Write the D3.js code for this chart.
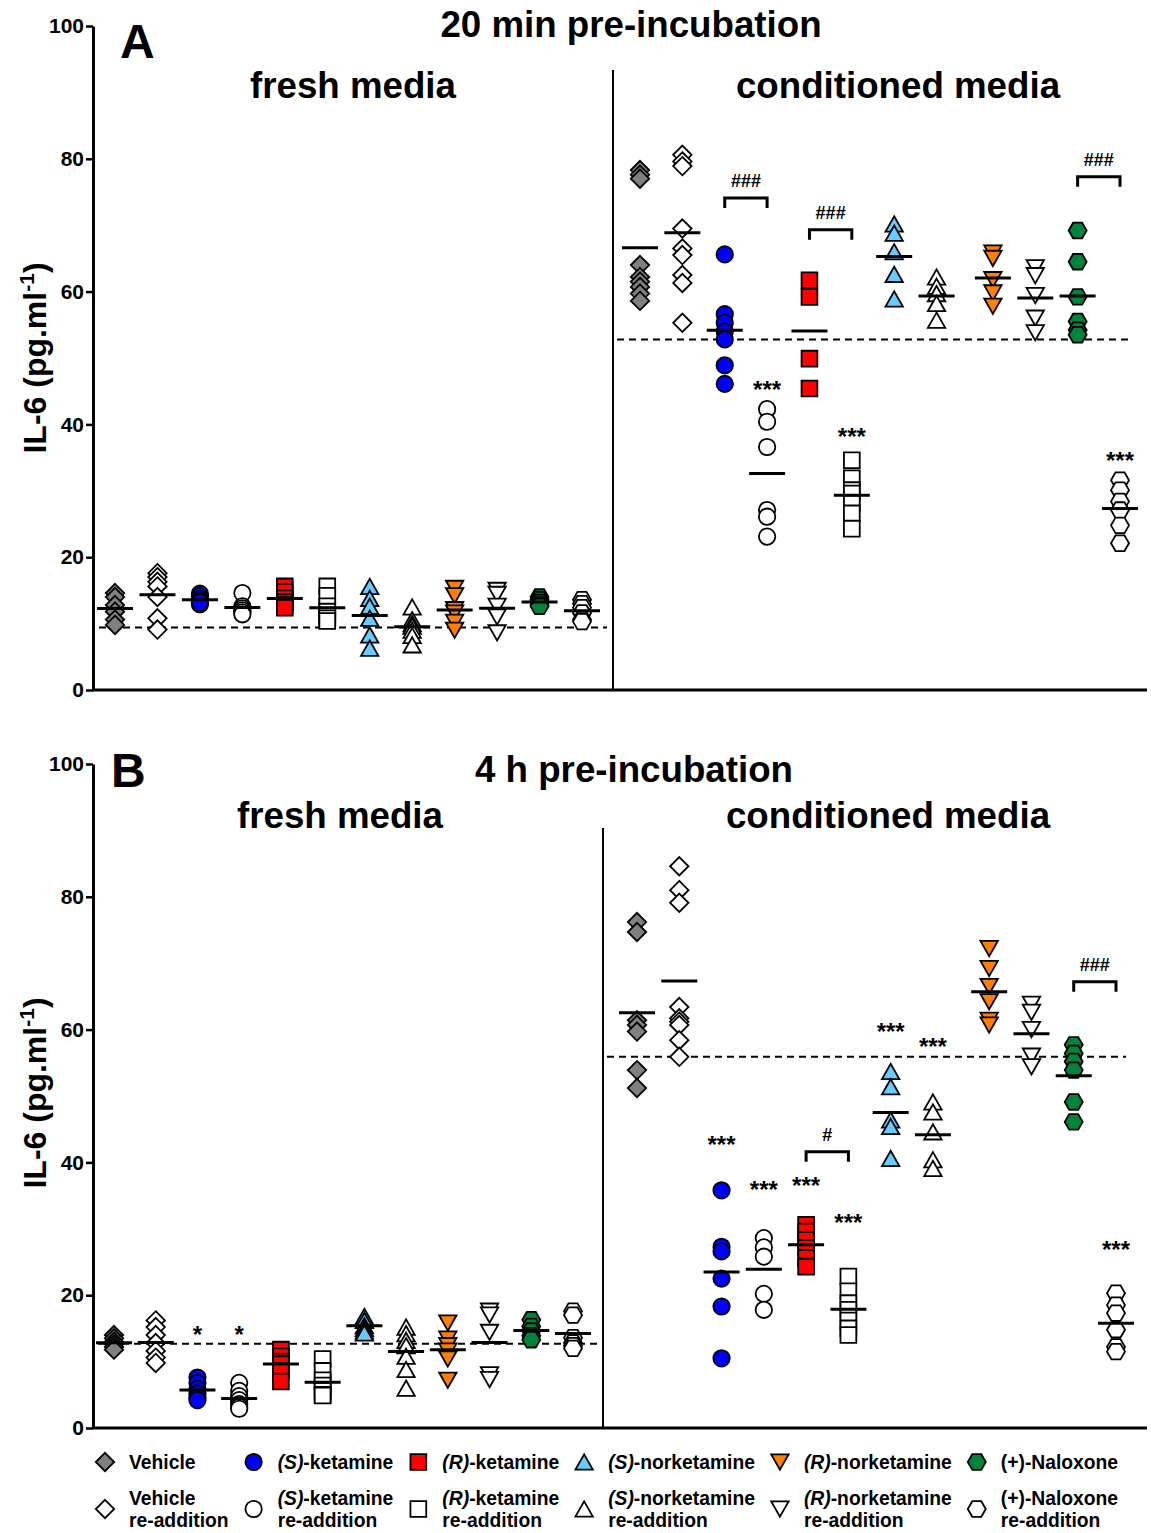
<!DOCTYPE html>
<html>
<head>
<meta charset="utf-8">
<script src="https://cdn.jsdelivr.net/npm/d3@7"></script>
<style>
  body { margin: 0; background: #fff; }
  text { font-family: "Liberation Sans", Arial, sans-serif; font-weight: bold; fill: #000; }
</style>
</head>
<body>
<svg width="1151" height="1533"></svg>
<script>
// groups, in plotting order (same in both media blocks)
var groups = ["Vehicle", "Vehicle re-addition", "(S)-ketamine", "(S)-ketamine re-addition",
  "(R)-ketamine", "(R)-ketamine re-addition", "(S)-norketamine", "(S)-norketamine re-addition",
  "(R)-norketamine", "(R)-norketamine re-addition", "(+)-Naloxone", "(+)-Naloxone re-addition"];

var legendNames = ["Vehicle", "(S)-ketamine", "(R)-ketamine", "(S)-norketamine", "(R)-norketamine", "(+)-Naloxone"];

// IL-6 (pg/ml), panel A (20 min)
var aFresh = [
  [14.6, 14.0, 12.8, 11.8, 10.6, 9.8],
  [17.6, 17.0, 16.3, 15.6, 14.0, 10.8, 9.1],
  [14.5, 14.1, 13.6, 13.3, 12.9, 13.2],
  [14.6, 12.6, 12.3, 12.0, 11.7, 11.4],
  [15.6, 14.8, 13.8, 13.2, 12.8, 12.4],
  [15.6, 14.2, 12.6, 11.8, 11.2, 10.8, 10.4],
  [15.6, 13.8, 12.6, 10.8, 8.3, 6.3],
  [12.5, 10.6, 10.0, 9.6, 9.0, 8.2, 6.8],
  [15.3, 14.2, 12.1, 11.6, 10.2, 9.0],
  [15.0, 14.4, 12.6, 11.0, 8.6],
  [14.0, 13.6, 13.2, 12.8, 12.6],
  [13.6, 13.0, 12.4, 11.6, 10.6, 10.3]
];
var aCond = [
  [78.3, 77.6, 77.0, 64.0, 62.2, 61.5, 60.7, 59.7, 58.6],
  [80.6, 79.6, 78.9, 69.5, 66.5, 65.5, 62.5, 61.3, 55.3],
  [65.6, 56.6, 55.3, 54.0, 52.8, 48.9, 46.1],
  [42.3, 40.4, 36.6, 27.1, 26.1, 23.1],
  [61.7, 59.2, 49.9, 45.4],
  [34.6, 31.9, 30.1, 29.6, 28.1, 26.6, 24.3],
  [70.2, 68.8, 66.0, 62.6, 58.9],
  [62.2, 60.8, 59.7, 58.2, 55.7],
  [65.8, 65.0, 61.8, 59.8, 57.8],
  [63.6, 62.4, 59.4, 56.0, 53.8],
  [69.2, 64.5, 59.2, 55.5, 54.2, 53.5],
  [31.6, 30.1, 28.4, 27.1, 24.8, 22.1]
];
// panel B (4 h)
var bFresh = [
  [14.0, 13.5, 13.0, 12.6, 12.2, 11.8],
  [16.2, 15.2, 14.0, 12.8, 11.6, 10.6, 9.8],
  [7.6, 6.8, 5.9, 5.2, 4.6, 4.2],
  [6.8, 5.6, 4.8, 4.2, 3.6, 3.2, 2.9],
  [11.8, 10.8, 10.0, 9.6, 8.6, 7.0],
  [10.4, 8.6, 7.2, 6.4, 5.6, 5.0, 4.9],
  [16.8, 16.2, 15.4, 15.0, 14.6, 14.3],
  [15.2, 14.2, 13.2, 12.4, 10.8, 8.8, 6.0],
  [15.8, 13.4, 12.4, 11.6, 10.4, 7.2],
  [17.6, 17.0, 14.4, 8.0, 7.3],
  [16.3, 15.3, 14.6, 13.9, 13.3],
  [17.6, 17.0, 13.6, 12.8, 12.4, 12.0]
];
var bCond = [
  [76.2, 74.7, 61.4, 60.7, 59.7, 53.9, 51.2],
  [84.6, 81.0, 79.1, 63.4, 61.7, 61.2, 60.7, 58.4, 55.9],
  [35.8, 27.3, 26.6, 22.5, 18.3, 10.5],
  [28.6, 27.2, 25.8, 20.2, 17.8],
  [30.6, 29.6, 28.3, 27.1, 25.6, 24.3],
  [22.8, 20.6, 18.8, 17.8, 16.2, 15.0, 14.0],
  [53.7, 51.4, 46.4, 45.4, 40.6],
  [49.1, 47.6, 44.6, 40.4, 39.1],
  [72.2, 69.2, 66.5, 64.2, 61.4, 60.7],
  [63.8, 62.6, 60.0, 56.0, 54.4],
  [57.7, 56.4, 55.2, 53.9, 49.1, 46.1],
  [20.3, 18.5, 17.3, 14.8, 12.2, 11.5]
];

// vehicle reference level (dashed line): [fresh, conditioned]
var baseA = [9.4, 52.8];
var baseB = [12.7, 55.9];

// significance marks
var starsA = [
  {side: "cond", g: 3, label: "***", v: 45.9},
  {side: "cond", g: 5, label: "***", v: 38.9},
  {side: "cond", g: 11, label: "***", v: 35.2}
];
var bracketsA = [
  {side: "cond", g: 2, label: "###", v: 74.1},
  {side: "cond", g: 4, label: "###", v: 69.3},
  {side: "cond", g: 10, label: "###", v: 77.3}
];
var starsB = [
  {side: "fresh", g: 2, label: "*", v: 14.8},
  {side: "fresh", g: 3, label: "*", v: 14.8},
  {side: "cond", g: 2, label: "***", v: 43.4},
  {side: "cond", g: 3, label: "***", v: 36.6},
  {side: "cond", g: 4, label: "***", v: 37.2},
  {side: "cond", g: 5, label: "***", v: 31.6},
  {side: "cond", g: 6, label: "***", v: 60.4},
  {side: "cond", g: 7, label: "***", v: 58.2},
  {side: "cond", g: 11, label: "***", v: 27.6}
];
var bracketsB = [
  {side: "cond", g: 4, label: "#", v: 41.6},
  {side: "cond", g: 10, label: "###", v: 67.2}
];

var yTicks = [0, 20, 40, 60, 80, 100];

var fills = ["#808080", "#fff", "#0000ff", "#fff", "#ff0000", "#fff",
  "#66ccff", "#fff", "#ff8000", "#fff", "#00843d", "#fff"];
var shapes = ["diamond", "diamond", "circle", "circle", "square", "square",
  "triUp", "triUp", "triDown", "triDown", "hex", "hex"];

// marker shapes, size = half width
var symbolTypes = {
  diamond: {draw: function(c, r) { c.moveTo(0, -r); c.lineTo(r, 0); c.lineTo(0, r); c.lineTo(-r, 0); c.closePath(); }},
  circle: {draw: function(c, r) { c.moveTo(r, 0); c.arc(0, 0, r, 0, 2 * Math.PI); }},
  square: {draw: function(c, r) { c.rect(-r, -r, 2 * r, 2 * r); }},
  triUp: {draw: function(c, r) { var h = r * 0.88; c.moveTo(0, -h); c.lineTo(r, h); c.lineTo(-r, h); c.closePath(); }},
  triDown: {draw: function(c, r) { var h = r * 0.88; c.moveTo(0, h); c.lineTo(r, -h); c.lineTo(-r, -h); c.closePath(); }},
  hex: {draw: function(c, r) {
    var h = r * 0.866;
    c.moveTo(r, 0); c.lineTo(r / 2, h); c.lineTo(-r / 2, h); c.lineTo(-r, 0);
    c.lineTo(-r / 2, -h); c.lineTo(r / 2, -h); c.closePath();
  }}
};
var markerR = {diamond: 9.2, circle: 8.2, square: 7.9, triUp: 8.7, triDown: 8.7, hex: 9};

function markerPath(i) {
  return d3.symbol().type(symbolTypes[shapes[i]]).size(markerR[shapes[i]])();
}

var svg = d3.select("svg");
svg.append("rect").attr("width", 1151).attr("height", 1533).attr("fill", "#fff");

var condGap = 0.33;   // extra space before the (R)-norketamine pair in conditioned media

var panels = [
  {letter: "A", title: "20 min pre-incubation", top: 26, bottom: 690, divider: 613, divTop: 70,
   freshX: [115, 582], condX: [640, 1120], fresh: aFresh, cond: aCond, base: baseA,
   stars: starsA, brackets: bracketsA, titleY: 37, titleCx: 631, subY: 98, freshCx: 353, condCx: 898,
   labelCy: 358, letterX: 120, letterY: 58},
  {letter: "B", title: "4 h pre-incubation", top: 764, bottom: 1428, divider: 603, divTop: 828,
   freshX: [114, 573], condX: [637, 1116], fresh: bFresh, cond: bCond, base: baseB,
   stars: starsB, brackets: bracketsB, titleY: 782, titleCx: 634, subY: 828, freshCx: 340, condCx: 888,
   labelCy: 1093, letterX: 111, letterY: 787}
];

panels.forEach(function(p) {
  var g = svg.append("g");
  var y = d3.scaleLinear().domain([0, 100]).range([p.bottom, p.top]);
  var xf = d3.scaleLinear().domain([0, 11]).range(p.freshX);
  var xc = d3.scaleLinear().domain([0, 11 + condGap]).range(p.condX);
  var xPos = {
    fresh: function(i) { return xf(i); },
    cond: function(i) { return xc(i + (i >= 8 ? condGap : 0)); }
  };

  // y axis
  var axis = g.append("g")
      .attr("transform", "translate(93,0)")
      .call(d3.axisLeft(y).tickValues(yTicks).tickSize(7).tickSizeOuter(0).tickPadding(2));
  axis.select(".domain").attr("stroke", "#000").attr("stroke-width", 3);
  axis.selectAll(".tick line").attr("stroke", "#000").attr("stroke-width", 2.5);
  axis.selectAll(".tick text")
      .attr("font-size", 21)
      .attr("font-family", "Liberation Sans, Arial, sans-serif")
      .attr("font-weight", "bold")
      .attr("fill", "#000");

  // x axis line and divider
  g.append("line").attr("x1", 92).attr("x2", 1147).attr("y1", y(0)).attr("y2", y(0))
      .attr("stroke", "#000").attr("stroke-width", 3);
  g.append("line").attr("x1", p.divider).attr("x2", p.divider).attr("y1", p.divTop).attr("y2", y(0))
      .attr("stroke", "#000").attr("stroke-width", 2);

  // y label
  var yl = g.append("text")
      .attr("transform", "translate(46," + p.labelCy + ") rotate(-90)")
      .attr("text-anchor", "middle")
      .attr("font-size", 32);
  yl.append("tspan").text("IL-6 (pg.ml");
  yl.append("tspan").attr("font-size", 21).attr("dy", -12).text("-1");
  yl.append("tspan").attr("dy", 12).text(")");

  // titles
  g.append("text").attr("x", p.letterX).attr("y", p.letterY).attr("font-size", 48).text(p.letter);
  g.append("text").attr("x", p.titleCx).attr("y", p.titleY).attr("text-anchor", "middle")
      .attr("font-size", 36.7).text(p.title);
  g.append("text").attr("x", p.freshCx).attr("y", p.subY).attr("text-anchor", "middle")
      .attr("font-size", 36.7).text("fresh media");
  g.append("text").attr("x", p.condCx).attr("y", p.subY).attr("text-anchor", "middle")
      .attr("font-size", 36.7).text("conditioned media");

  // dashed vehicle levels
  g.append("line")
      .attr("x1", xPos.fresh(0) - 16).attr("x2", p.divider - 6)
      .attr("y1", y(p.base[0])).attr("y2", y(p.base[0]))
      .attr("stroke", "#000").attr("stroke-width", 2).attr("stroke-dasharray", "7,5");
  g.append("line")
      .attr("x1", p.divider + 4).attr("x2", xPos.cond(11) + 10)
      .attr("y1", y(p.base[1])).attr("y2", y(p.base[1]))
      .attr("stroke", "#000").attr("stroke-width", 2).attr("stroke-dasharray", "7,5");

  ["fresh", "cond"].forEach(function(side) {
    var series = p[side];
    var pts = [];
    series.forEach(function(vals, i) {
      vals.forEach(function(v) { pts.push({i: i, v: v}); });
    });

    g.append("g").selectAll("path")
      .data(pts)
      .enter().append("path")
        .attr("d", function(d) { return markerPath(d.i); })
        .attr("transform", function(d) { return "translate(" + xPos[side](d.i) + "," + y(d.v) + ")"; })
        .attr("fill", function(d) { return fills[d.i]; })
        .attr("stroke", "#000")
        .attr("stroke-width", 1.8);

    // mean lines
    g.append("g").selectAll("line")
      .data(series)
      .enter().append("line")
        .attr("x1", function(d, i) { return xPos[side](i) - 18; })
        .attr("x2", function(d, i) { return xPos[side](i) + 18; })
        .attr("y1", function(d) { return y(d3.mean(d)); })
        .attr("y2", function(d) { return y(d3.mean(d)); })
        .attr("stroke", "#000")
        .attr("stroke-width", 3);
  });

  // stars
  g.append("g").selectAll("text")
    .data(p.stars)
    .enter().append("text")
      .attr("x", function(d) { return xPos[d.side](d.g); })
      .attr("y", function(d) { return y(d.v) + 13; })
      .attr("text-anchor", "middle")
      .attr("font-size", 24)
      .text(function(d) { return d.label; });

  // brackets with hashes
  var br = g.append("g").selectAll("g")
    .data(p.brackets)
    .enter().append("g");
  br.append("path")
      .attr("d", function(d) {
        var x1 = xPos[d.side](d.g), x2 = xPos[d.side](d.g + 1), yy = y(d.v);
        return "M" + x1 + "," + (yy + 10) + "V" + yy + "H" + x2 + "V" + (yy + 10);
      })
      .attr("fill", "none").attr("stroke", "#000").attr("stroke-width", 3);
  br.append("text")
      .attr("x", function(d) { return (xPos[d.side](d.g) + xPos[d.side](d.g + 1)) / 2; })
      .attr("y", function(d) { return y(d.v) - 11; })
      .attr("text-anchor", "middle")
      .attr("font-size", 18)
      .attr("font-weight", "normal")
      .text(function(d) { return d.label; });
});

// legend
var legend = svg.append("g");
var row1 = 1462, row2 = 1509;
var mx = 105;

function addLabel(sel, name) {
  var m = name.match(/^(\([SR]\))(.*)$/);
  if (m) {
    sel.append("tspan").attr("font-style", "italic").text(m[1]);
    sel.append("tspan").text(m[2]);
  } else {
    sel.append("tspan").text(name);
  }
}

legendNames.forEach(function(name, k) {
  var tx = mx + 24;
  legend.append("path")
      .attr("d", markerPath(2 * k))
      .attr("transform", "translate(" + mx + "," + row1 + ")")
      .attr("fill", fills[2 * k]).attr("stroke", "#000").attr("stroke-width", 1.8);
  legend.append("path")
      .attr("d", markerPath(2 * k + 1))
      .attr("transform", "translate(" + mx + "," + row2 + ")")
      .attr("fill", fills[2 * k + 1]).attr("stroke", "#000").attr("stroke-width", 1.8);

  var t1 = legend.append("text").attr("x", tx).attr("y", row1 + 7).attr("font-size", 19.3);
  addLabel(t1, name);
  var t2 = legend.append("text").attr("x", tx).attr("y", row2 - 4).attr("font-size", 19.3);
  addLabel(t2, name);
  var t3 = legend.append("text").attr("x", tx).attr("y", row2 + 18).attr("font-size", 19.3).text("re-addition");

  var w = Math.max(t1.node().getComputedTextLength(), t2.node().getComputedTextLength(),
                   t3.node().getComputedTextLength());
  mx = tx + w + 25;
});
</script>
</body>
</html>
